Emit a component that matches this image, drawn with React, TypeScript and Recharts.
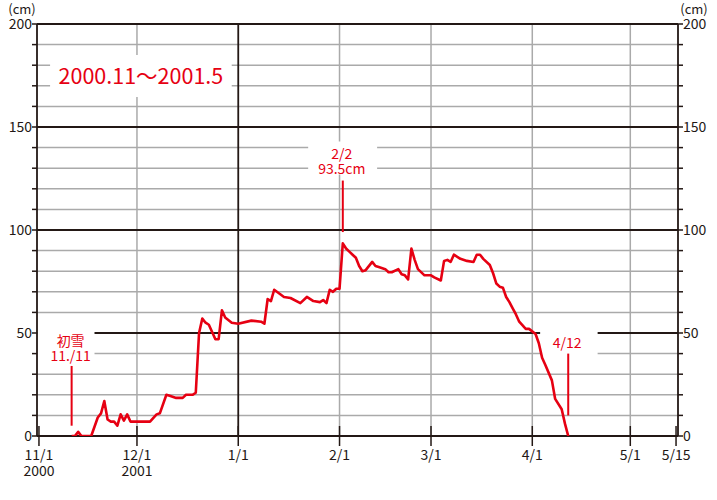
import React from "react";
import {
  LineChart,
  Line,
  XAxis,
  YAxis,
  CartesianGrid,
  ReferenceLine,
  ReferenceArea,
  ReferenceDot,
} from "recharts";

const RED = "#e60012";
const INK = "#231815";
const GRID = "#aaaaaa";
const FONT = "'Noto Sans CJK JP', 'Noto Sans', sans-serif";

// snow depth (cm), winter 2000.11 - 2001.5
const dates = [
  "11/11", "11/12", "11/13", "11/14", "11/17", "11/19", "11/20", "11/21", "11/22", "11/23",
  "11/24", "11/25", "11/26", "11/27", "11/28", "11/29", "12/5", "12/7", "12/8", "12/10",
  "12/11", "12/13", "12/15", "12/16", "12/18", "12/19", "12/20", "12/21", "12/22", "12/23",
  "12/25", "12/26", "12/27", "12/28", "12/30", "1/1", "1/5", "1/8", "1/9", "1/10",
  "1/11", "1/12", "1/15", "1/17", "1/20", "1/22", "1/24", "1/26", "1/27", "1/28",
  "1/29", "1/30", "1/31", "2/1", "2/2", "2/3", "2/4", "2/5", "2/6", "2/7",
  "2/8", "2/9", "2/11", "2/12", "2/13", "2/15", "2/16", "2/17", "2/19", "2/20",
  "2/21", "2/22", "2/23", "2/24", "2/25", "2/27", "3/1", "3/2", "3/4", "3/5",
  "3/6", "3/7", "3/8", "3/10", "3/12", "3/14", "3/15", "3/16", "3/17", "3/19",
  "3/20", "3/21", "3/22", "3/23", "3/24", "3/25", "3/26", "3/27", "3/28", "3/30",
  "3/31", "4/2", "4/3", "4/4", "4/5", "4/7", "4/8", "4/10", "4/11", "4/12",
];
const depth = [
  0, 0, 2, 0, 0, 9, 11, 17, 8, 7,
  7, 5, 10.5, 7.5, 10.5, 7, 7, 10.5, 11, 20,
  19.5, 18.5, 18.5, 20, 20, 21, 50, 57, 55, 54,
  47, 47, 61, 57.5, 55, 54.5, 56, 55.5, 54.5, 66.5,
  65.5, 71, 67.5, 67, 64.5, 67.5, 65.5, 65, 66, 64.5,
  71, 70, 71.5, 71.5, 93.5, 91, 89.5, 88, 86.5, 82.5,
  80, 80.5, 84.5, 82.5, 82, 81, 79.5, 79.5, 81, 78.5,
  78, 76, 91, 85.5, 81, 78, 78, 77, 75.5, 85,
  85.5, 84.5, 88, 86, 85, 84.5, 88, 88, 86, 83,
  79, 74, 72.5, 72, 67.5, 65, 62, 59, 55.5, 52,
  52, 49.5, 45, 38, 34.5, 27, 18, 13, 6, 0,
];

const tickDates = ["11/1", "12/1", "1/1", "2/1", "3/1", "4/1", "5/1", "5/15"];
const tickYears = ["2000", "2001", "", "", "", "", "", ""];
const gridDates = ["12/1", "2/1", "3/1", "4/1", "5/1"];
const yearDate = "1/1";
const yTicks = [0, 10, 20, 30, 40, 50, 60, 70, 80, 90, 100, 110, 120, 130, 140, 150, 160, 170, 180, 190, 200];
const majorY = [50, 100, 150, 200];

const monthStart: Record<number, number> = { 11: 0, 12: 30, 1: 61, 2: 92, 3: 120, 4: 151, 5: 181 };
const toDay = (s: string) => {
  const [m, d] = s.split("/").map(Number);
  return monthStart[m] + d - 1;
};

const data = dates.map((d, i) => ({ day: toDay(d), depth: depth[i] }));
const tickDays = tickDates.map(toDay);

const txt = { fontFamily: FONT, fontSize: 14 };

const LeftTick = ({ x, y, payload }: any) => (
  <g>
    <line x1={x - 5} x2={x} y1={y} y2={y} stroke={INK} strokeWidth={1.5} />
    {payload.value % 50 === 0 && (
      <text x={x - 5} y={y} dy="0.36em" textAnchor="end" fill={INK} {...txt}>
        {payload.value}
      </text>
    )}
    {payload.value === 200 && (
      <text x={x - 15} y={y - 15} dy="0.36em" textAnchor="middle" fill={INK} fontFamily={FONT} fontSize={13}>
        (cm)
      </text>
    )}
  </g>
);

const RightTick = ({ x, y, payload }: any) => (
  <g>
    <line x1={x} x2={x + 5} y1={y} y2={y} stroke={INK} strokeWidth={1.5} />
    {payload.value % 50 === 0 && (
      <text x={x + 5} y={y} dy="0.36em" textAnchor="start" fill={INK} {...txt}>
        {payload.value}
      </text>
    )}
    {payload.value === 200 && (
      <text x={x + 16} y={y - 15} dy="0.36em" textAnchor="middle" fill={INK} fontFamily={FONT} fontSize={13}>
        (cm)
      </text>
    )}
  </g>
);

const XTick = ({ x, y, payload }: any) => {
  const i = tickDays.indexOf(payload.value);
  return (
    <g>
      <line x1={x} x2={x} y1={y - 10} y2={y + 10} stroke={INK} strokeWidth={1.5} />
      <text x={x} y={y + 19} dy="0.36em" textAnchor="middle" fill={INK} {...txt}>
        {tickDates[i]}
      </text>
      {tickYears[i] && (
        <text x={x} y={y + 35} dy="0.36em" textAnchor="middle" fill={INK} {...txt}>
          {tickYears[i]}
        </text>
      )}
    </g>
  );
};

// red note text stacked above a point
const note = (lines: string[], gap: number) => (p: any) => {
  const vb = p.viewBox;
  const cx = vb.x + vb.width / 2 - 1;
  const cy = vb.y + vb.height / 2;
  return (
    <g>
      {lines.map((s, i) => (
        <text
          key={i}
          x={cx}
          y={cy - gap - (lines.length - 1 - i) * 15}
          dy="0.36em"
          textAnchor="middle"
          fill={RED}
          {...txt}
        >
          {s}
        </text>
      ))}
    </g>
  );
};

const title = (p: any) => {
  const vb = p.viewBox;
  return (
    <text
      x={vb.x + vb.width / 2}
      y={vb.y + vb.height / 2}
      dy="0.36em"
      textAnchor="middle"
      fill={RED}
      fontFamily={FONT}
      fontSize={21.5}
    >
      2000.11～2001.5
    </text>
  );
};

export default function App() {
  return (
    <div style={{ position: "absolute", left: 0, top: 0, background: "#fff" }}>
      <LineChart
        width={717}
        height={500}
        data={data}
        margin={{ top: 24, right: 0, bottom: 24, left: 0 }}
      >
        <CartesianGrid vertical={false} stroke={GRID} strokeWidth={1.5} zIndex={-100} />
        {gridDates.map((d) => (
          <ReferenceLine key={d} x={toDay(d)} stroke={GRID} strokeWidth={1.5} zIndex={-90} />
        ))}
        {majorY.map((v) => (
          <ReferenceLine key={v} y={v} stroke={INK} strokeWidth={1.8} zIndex={-80} />
        ))}
        <ReferenceLine x={toDay(yearDate)} stroke={INK} strokeWidth={1.8} zIndex={-80} />

        {/* white boxes behind the notes */}
        <ReferenceArea x1={3.4} x2={59} y1={164.6} y2={185} fill="#fff" fillOpacity={1} stroke="none" zIndex={-70} label={title} />
        <ReferenceArea x1={-0.5} x2={17} y1={37} y2={54} fill="#fff" fillOpacity={1} stroke="none" zIndex={-70} />
        <ReferenceArea x1={82.4} x2={103.5} y1={127} y2={143} fill="#fff" fillOpacity={1} stroke="none" zIndex={-70} />
        <ReferenceArea x1={153.4} x2={171} y1={38} y2={53} fill="#fff" fillOpacity={1} stroke="none" zIndex={-70} />

        <XAxis
          dataKey="day"
          type="number"
          domain={[-0.6, 195.6]}
          allowDataOverflow
          ticks={tickDays}
          interval={0}
          height={40}
          tickSize={0}
          tickMargin={0}
          tickLine={false}
          axisLine={{ stroke: INK, strokeWidth: 1.8 }}
          tick={<XTick />}
        />
        <YAxis
          orientation="left"
          type="number"
          domain={[0, 200]}
          allowDataOverflow
          ticks={yTicks}
          interval={0}
          width={37}
          tickSize={0}
          tickMargin={0}
          tickLine={false}
          axisLine={{ stroke: INK, strokeWidth: 1.8 }}
          tick={<LeftTick />}
        />
        <YAxis
          yAxisId="r"
          orientation="right"
          type="number"
          domain={[0, 200]}
          allowDataOverflow
          ticks={yTicks}
          interval={0}
          width={39}
          tickSize={0}
          tickMargin={0}
          tickLine={false}
          axisLine={{ stroke: INK, strokeWidth: 1.8 }}
          tick={<RightTick />}
        />

        <Line
          type="linear"
          dataKey="depth"
          stroke={RED}
          strokeWidth={2.6}
          strokeLinejoin="round"
          dot={false}
          activeDot={false}
          isAnimationActive={false}
          zIndex={600}
        />

        {/* pointer lines for the notes */}
        <ReferenceLine segment={[{ x: 10, y: 5 }, { x: 10, y: 34 }]} stroke={RED} strokeWidth={2} zIndex={650} />
        <ReferenceLine segment={[{ x: 93, y: 99 }, { x: 93, y: 124 }]} stroke={RED} strokeWidth={2} zIndex={650} />
        <ReferenceLine segment={[{ x: 162, y: 10 }, { x: 162, y: 40 }]} stroke={RED} strokeWidth={2} zIndex={650} />
        <ReferenceDot x={10} y={34} r={1} fill="none" stroke="none" label={note(["初雪", "11./11"], 10)} />
        <ReferenceDot x={93} y={124} r={1} fill="none" stroke="none" label={note(["2/2", "93.5cm"], 12)} />
        <ReferenceDot x={162} y={40} r={1} fill="none" stroke="none" label={note(["4/12"], 11)} />
      </LineChart>
    </div>
  );
}
